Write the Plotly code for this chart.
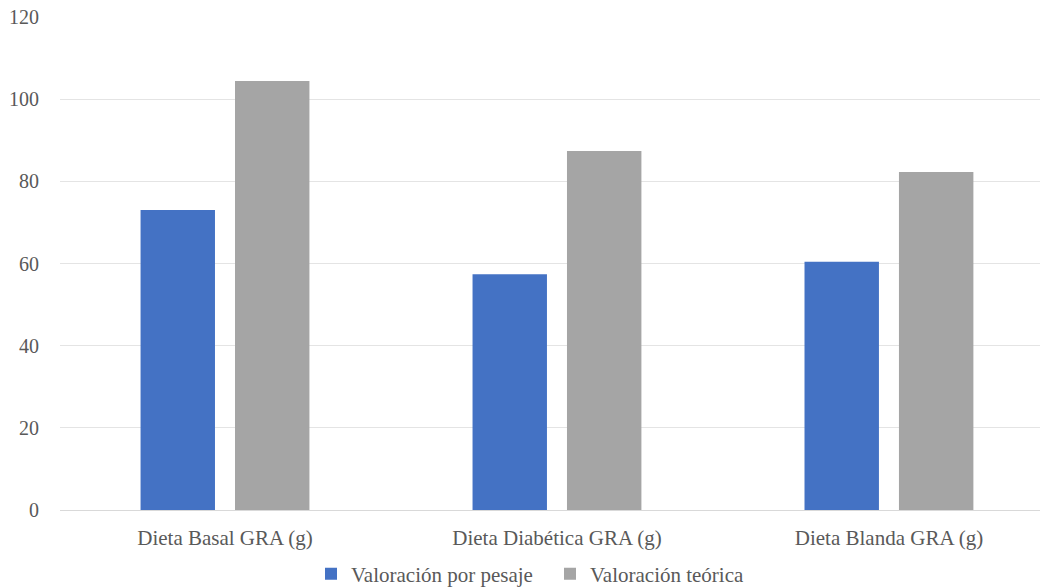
import plotly.graph_objects as go

categorias = ["Dieta Basal GRA (g)", "Dieta Diabética GRA (g)", "Dieta Blanda GRA (g)"]
pesaje = [73.0, 57.4, 60.4]
teorica = [104.4, 87.4, 82.3]
ticks_y = [0, 20, 40, 60, 80, 100, 120]

FONT = "Liberation Serif, Times New Roman, serif"
TXT = "#595959"

fig = go.Figure()
fig.add_bar(x=categorias, y=pesaje, name="Valoración por pesaje",
            marker=dict(color="#4472C4", line=dict(width=0)))
fig.add_bar(x=categorias, y=teorica, name="Valoración teórica",
            marker=dict(color="#A5A5A5", line=dict(width=0)))

fig.update_layout(
    width=1046, height=587,
    margin=dict(l=60, r=6, t=17, b=77, autoexpand=False),
    paper_bgcolor="white", plot_bgcolor="white",
    barmode="group", bargap=0.431, bargroupgap=0.212,
    font=dict(family=FONT, size=20, color=TXT),
    showlegend=True,
    legend=dict(orientation="h", x=0.5, xanchor="center",
                yref="container", y=0.022, yanchor="middle",
                font=dict(family=FONT, size=21, color=TXT),
                itemwidth=30, tracegroupgap=0,
                entrywidth=194, entrywidthmode="pixels"),
    hovermode=False,
)
fig.update_xaxes(type="category", range=[-0.497, 2.455], showgrid=False,
                 showline=False, ticks="", automargin=False, ticklabelstandoff=13,
                 tickfont=dict(family=FONT, size=21, color=TXT))
fig.update_yaxes(range=[0, 120], tickvals=ticks_y, showgrid=True,
                 gridcolor="#E4E4E4", gridwidth=1, zeroline=True,
                 zerolinecolor="#D9D9D9", zerolinewidth=1, showline=False,
                 ticks="", automargin=False, ticklabelstandoff=20,
                 tickfont=dict(family=FONT, size=20, color=TXT))

fig.write_html("out.html")
